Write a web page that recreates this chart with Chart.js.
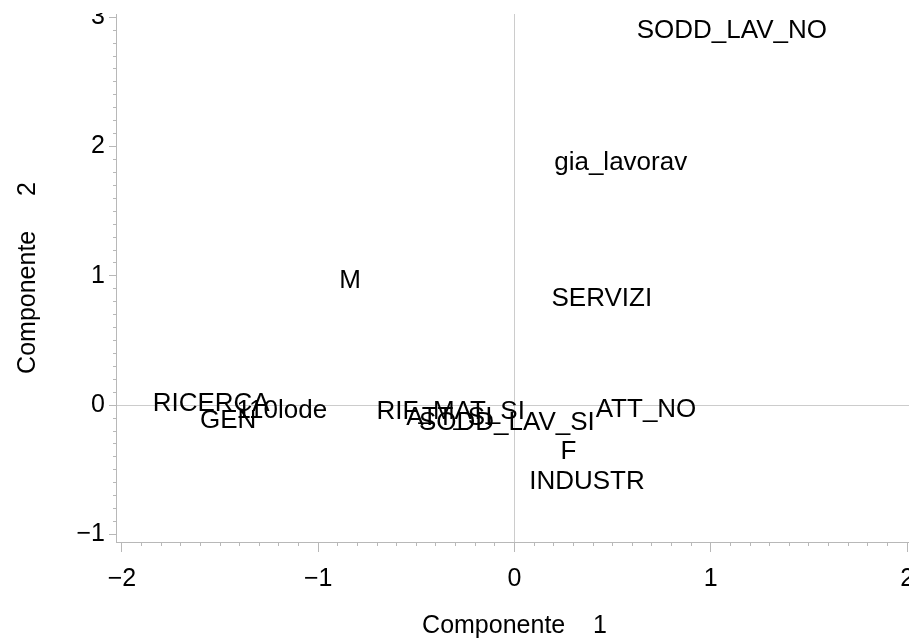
<!DOCTYPE html>
<html>
<head>
<meta charset="utf-8">
<script src="https://cdn.jsdelivr.net/npm/chart.js@4.4.1/dist/chart.umd.min.js"></script>
<style>
    html, body { margin: 0; padding: 0; background: #fff; overflow: hidden; }
    #wrap { width: 930px; height: 644px; }
</style>
</head>
<body>
<div id="wrap"><canvas id="ChartCanvas" width="930" height="644"></canvas></div>
<script>
// point labels and their coordinates (component 1 / component 2)
var pointNames = ["SODD_LAV_NO", "gia_lavorav", "M", "SERVIZI", "RICERCA", "GEN", "110lode",
    "RIF_MAT_SI", "ATT_SI", "SODD_LAV_SI", "ATT_NO", "F", "INDUSTR"];
var comp1 = [1.107, 0.541, -0.837, 0.445, -1.545, -1.459, -1.185, -0.325, -0.332, -0.039, 0.670, 0.275, 0.369];
var comp2 = [2.895, 1.874, 0.962, 0.822, 0.010, -0.120, -0.040, -0.055, -0.100, -0.140, -0.034, -0.360, -0.590];

var xTitle = "Componente    1";
var yTitle = "Componente     2";
var xRange = [-2.03, 2.03];
var yRange = [-1.058, 3.025];

var fontFamily = '"Liberation Sans", Arial, Helvetica, sans-serif';
var axisGray = '#b8b8b8';
var zeroGray = '#cccccc';

var chartContext = document.getElementById("ChartCanvas").getContext("2d");

function formatTick(value) {
    // SAS uses a real minus sign for negative ticks
    if (value < 0) return '\u2212' + Math.abs(value);
    return '' + value;
}

function fixFit(w, h) {
    return function (scale) {
        if (w !== null) scale.width = w;
        if (h !== null) scale.height = h;
        scale.paddingLeft = 0;
        scale.paddingRight = 0;
        scale.paddingTop = 0;
        scale.paddingBottom = 0;
    };
}

function zeroLine(ctx) {
    return ctx.tick && ctx.tick.value === 0 ? zeroGray : 'rgba(0,0,0,0)';
}

var pointLabelsPlugin = {
    id: 'pointLabels',
    afterDatasetsDraw: function (chart) {
        var ctx = chart.ctx;
        var meta = chart.getDatasetMeta(0);
        ctx.save();
        ctx.font = '26px ' + fontFamily;
        ctx.fillStyle = '#000';
        ctx.textAlign = 'center';
        ctx.textBaseline = 'middle';
        meta.data.forEach(function (pt, i) {
            ctx.fillText(pointNames[i], pt.x, pt.y);
        });
        ctx.restore();
    }
};

// the original clips the top tick label ("3") at the top of the axis
var clipTopPlugin = {
    id: 'clipTop',
    afterDraw: function (chart) {
        var ctx = chart.ctx;
        var y = chart.scales.y;
        ctx.save();
        ctx.fillStyle = '#fff';
        ctx.fillRect(y.left, 0, y.right - y.left - 12, chart.chartArea.top - 1);
        ctx.restore();
    }
};

var points = comp1.map(function (v, i) { return { x: v, y: comp2[i] }; });

var config = {
    type: 'scatter',
    data: {
        datasets: [{
            data: points,
            pointRadius: 0,
            pointHoverRadius: 0,
            backgroundColor: '#000'
        }]
    },
    options: {
        responsive: false,
        animation: false,
        events: [],
        devicePixelRatio: 1,
        layout: { padding: { top: 14, right: 17, bottom: 0, left: 0 } },
        plugins: {
            legend: { display: false },
            tooltip: { enabled: false }
        },
        scales: {
            // minor ticks, sitting right on the chart area
            xMinor: {
                type: 'linear', position: 'bottom', weight: 0,
                min: xRange[0], max: xRange[1],
                ticks: { stepSize: 0.1, display: false, includeBounds: false },
                grid: { drawOnChartArea: false, tickLength: 4, tickColor: axisGray },
                border: { color: axisGray },
                afterFit: fixFit(null, 0)
            },
            x: {
                type: 'linear', position: 'bottom', weight: 1,
                min: xRange[0], max: xRange[1],
                ticks: {
                    stepSize: 1, includeBounds: false, maxRotation: 0, autoSkip: false,
                    callback: formatTick, color: '#000', padding: 12,
                    font: { family: fontFamily, size: 25 }
                },
                grid: { color: zeroLine, tickLength: 10, tickColor: axisGray },
                border: { color: axisGray },
                title: {
                    display: true, text: xTitle, color: '#000',
                    font: { family: fontFamily, size: 25 },
                    padding: { top: 0, bottom: 3 }
                },
                afterFit: fixFit(null, 102)
            },
            yMinor: {
                type: 'linear', position: 'left', weight: 0,
                min: yRange[0], max: yRange[1],
                ticks: { stepSize: 0.1, display: false, includeBounds: false },
                grid: { drawOnChartArea: false, tickLength: 3, tickColor: axisGray },
                border: { color: axisGray },
                afterFit: fixFit(0, null)
            },
            y: {
                type: 'linear', position: 'left', weight: 1,
                min: yRange[0], max: yRange[1],
                ticks: {
                    stepSize: 1, includeBounds: false, autoSkip: false,
                    callback: formatTick, color: '#000', padding: 4,
                    font: { family: fontFamily, size: 25 }
                },
                grid: { color: zeroLine, tickLength: 7, tickColor: axisGray },
                border: { color: axisGray },
                title: {
                    display: true, text: yTitle, color: '#000',
                    font: { family: fontFamily, size: 25 },
                    padding: { top: 13, bottom: 0 }
                },
                afterFit: fixFit(116, null)
            }
        }
    },
    plugins: [pointLabelsPlugin, clipTopPlugin]
};

var createdChart = new Chart(chartContext, config);
</script>
</body>
</html>
